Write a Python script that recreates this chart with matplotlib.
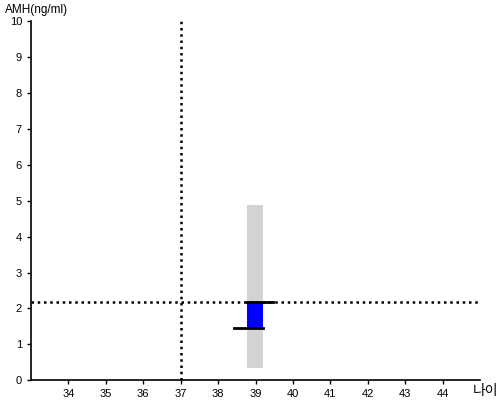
import matplotlib
matplotlib.use('Agg')
import matplotlib.pyplot as plt

# data
age = 39.0              # patient age
amh = 2.18              # measured AMH
amh_low = 1.45          # lower end of the blue box
range_low = 0.34        # grey reference range
range_high = 4.88
ref_age = 37            # vertical reference line
xticks = [34, 35, 36, 37, 38, 39, 40, 41, 42, 43, 44]
yticks = [0, 1, 2, 3, 4, 5, 6, 7, 8, 9, 10]

plt.rcParams['font.family'] = ['Liberation Sans', 'DejaVu Sans']

fig = plt.figure(figsize=(5, 4), dpi=100)
ax = fig.add_axes([0.062, 0.049, 0.898, 0.899])

w = 0.43
# grey range bar
ax.bar(age - 0.02, range_high - range_low, bottom=range_low, width=w,
       color='#d3d3d3', zorder=1)
# blue box
ax.bar(age - 0.02, amh - amh_low, bottom=amh_low, width=w,
       color='#0000ff', zorder=2)
# black caps
ax.plot([age - 0.02 - w / 2, age + 0.47], [amh, amh], color='black', lw=2, zorder=3)
ax.plot([age - 0.57, age - 0.02 + w / 2], [amh_low, amh_low], color='black', lw=2, zorder=3)

# dotted reference lines
ax.axhline(amh, color='black', ls=(0, (1, 1.5)), lw=1.8, zorder=2.5)
ax.plot([ref_age, ref_age], [0, 10.05], color='black', ls=(0, (1, 1.5)), lw=1.8,
        zorder=2.5, clip_on=False)

ax.set_xlim(33, 45)
ax.set_ylim(0, 10)
ax.set_xticks(xticks)
ax.set_yticks(yticks)
ax.tick_params(labelsize=8, length=3, width=1, colors='black')
ax.spines['top'].set_visible(False)
ax.spines['right'].set_visible(False)
ax.spines['left'].set_linewidth(1.2)
ax.spines['bottom'].set_linewidth(1.2)

fig.text(0.01, 0.99, 'AMH(ng/ml)', fontsize=8.5, va='top', ha='left')
fig.text(0.945, 0.005, '나이', fontsize=10, va='bottom', ha='left',
         family=['Noto Sans CJK KR', 'DejaVu Sans'])

fig.savefig('out.png', dpi=100)
